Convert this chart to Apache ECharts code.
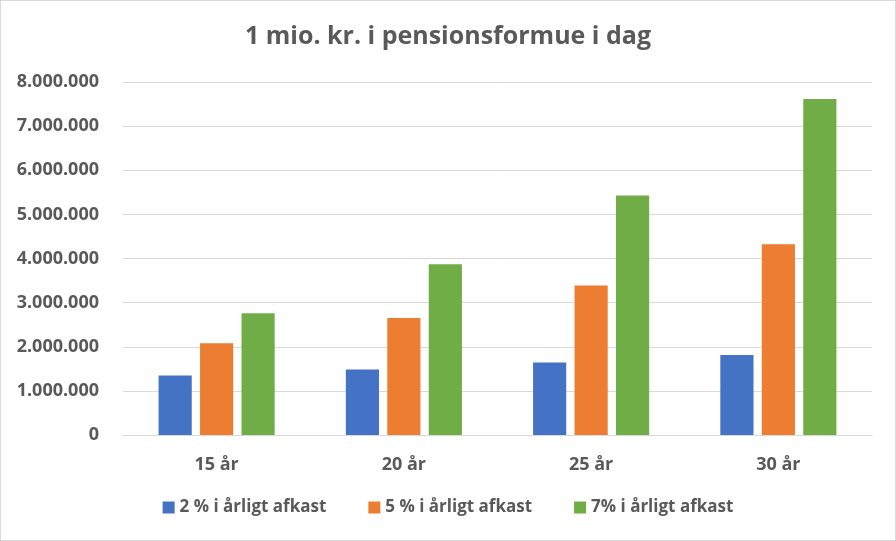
<!DOCTYPE html>
<html><head><meta charset="utf-8">
<script src="https://cdn.jsdelivr.net/npm/echarts@6/dist/echarts.min.js"></script>
<style>html,body{margin:0;padding:0;background:#fff}#c{width:894px;height:539px;border:1px solid #d9d9d9}</style>
</head><body><div id="c"></div>
<script>
const categories = ['15 år', '20 år', '25 år', '30 år'];
const seriesNames = ['2 % i årligt afkast', '5 % i årligt afkast', '7% i årligt afkast'];
const s2 = [1346000, 1486000, 1641000, 1811000];
const s5 = [2079000, 2653000, 3386000, 4322000];
const s7 = [2759000, 3870000, 5427000, 7612000];
const colors = ['#4472C4', '#ED7D31', '#70AD47'];
const font = 'Open Sans';
const chart = echarts.init(document.getElementById('c'));
const fmt = v => v === 0 ? '0' : String(v).replace(/\B(?=(\d{3})+(?!\d))/g, '.');
chart.setOption({
  animation: false,
  title: {text: '1 mio. kr. i pensionsformue i dag', left: 'center', top: 18,
    textStyle: {fontFamily: font, fontSize: 25, fontWeight: 'bold', color: '#595959'}},
  grid: {left: 122, right: 23, top: 81, bottom: 105, containLabel: false},
  legend: {bottom: 19, left: 'center', itemWidth: 12, itemHeight: 12, itemGap: 42, icon: 'rect',
    padding: [5, 0, 5, 6],
    textStyle: {fontFamily: font, fontSize: 17, fontWeight: 'bold', color: '#595959'}},
  xAxis: {type: 'category', data: categories,
    axisLine: {lineStyle: {color: '#d9d9d9'}}, axisTick: {show: false},
    axisLabel: {fontFamily: font, fontSize: 18, fontWeight: 'bold', color: '#595959', margin: 21}},
  yAxis: {type: 'value', min: 0, max: 8000000, interval: 1000000,
    axisLine: {show: false}, axisTick: {show: false},
    splitLine: {lineStyle: {color: '#d9d9d9'}},
    axisLabel: {fontFamily: font, fontSize: 18, fontWeight: 'bold', color: '#595959', margin: 24, formatter: fmt}},
  series: [s2, s5, s7].map((d, i) => ({
    name: seriesNames[i], type: 'bar', data: d, barGap: '25%', barCategoryGap: '38%',
    itemStyle: {color: colors[i]}
  }))
});
</script></body></html>
